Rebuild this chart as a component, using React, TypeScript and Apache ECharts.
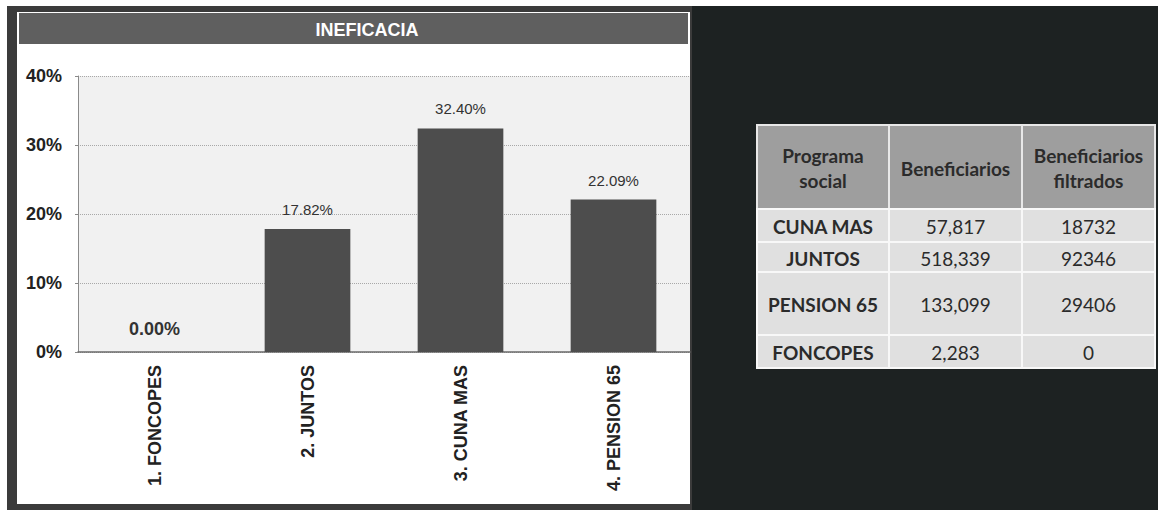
import React, { useEffect, useRef } from "react";
import * as echarts from "echarts";

// ---- chart data ----
const categories = ["1. FONCOPES", "2. JUNTOS", "3. CUNA MAS", "4. PENSION 65"];
const ineficacia = [0.0, 17.82, 32.4, 22.09];
const yMin = 0;
const yMax = 40;
const yInterval = 10;
const chartTitle = "INEFICACIA";

// ---- table data ----
const tableHeaders = ["Programa\nsocial", "Beneficiarios", "Beneficiarios\nfiltrados"];
const tablePrograms = ["CUNA MAS", "JUNTOS", "PENSION 65", "FONCOPES"];
const tableBeneficiarios = ["57,817", "518,339", "133,099", "2,283"];
const tableFiltrados = ["18732", "92346", "29406", "0"];

// ---- layout (not data) ----
const tableColX = [757, 889, 1022, 1155];
const tableRowY = [125, 209, 242, 272, 335, 368];

const SANS = '"Liberation Sans", Arial, sans-serif';
const TBL = 'Lato, "Open Sans", sans-serif';

export default function App() {
  const ref = useRef<HTMLDivElement>(null);

  useEffect(() => {
    if (!ref.current) return;
    const chart = echarts.init(ref.current, undefined, { renderer: "svg" });

    const graphics: any[] = [];
    // frames & panels
    graphics.push({ type: "rect", z: -20, shape: { x: 7, y: 6, width: 690, height: 504 }, style: { fill: "#3b3b3b" } });
    graphics.push({ type: "rect", z: -20, shape: { x: 692, y: 6, width: 466, height: 504 }, style: { fill: "#1d2222" } });
    graphics.push({ type: "rect", z: -19, shape: { x: 17, y: 12, width: 673, height: 492 }, style: { fill: "#ffffff" } });
    graphics.push({ type: "rect", z: -18, shape: { x: 19, y: 13, width: 669, height: 31 }, style: { fill: "#5f5f5f" } });
    graphics.push({
      type: "text", z: 5, x: 367, y: 30,
      style: { text: chartTitle, fill: "#ffffff", font: `bold 18px ${SANS}`, align: "center", verticalAlign: "middle" },
    });

    // table
    const cols = [tablePrograms, tableBeneficiarios, tableFiltrados];
    for (let c = 0; c < 3; c++) {
      const x0 = tableColX[c];
      const w = tableColX[c + 1] - x0;
      // header
      graphics.push({
        type: "rect", z: 5,
        shape: { x: x0, y: tableRowY[0], width: w, height: tableRowY[1] - tableRowY[0] },
        style: { fill: "#9e9e9e", stroke: "#e8e8e8", lineWidth: 2 },
      });
      graphics.push({
        type: "text", z: 6, x: x0 + w / 2, y: (tableRowY[0] + tableRowY[1]) / 2 + 1,
        style: { text: tableHeaders[c], fill: "#2b2b2b", font: `bold 19px ${TBL}`, align: "center", verticalAlign: "middle", lineHeight: 25 },
      });
      for (let r = 0; r < tablePrograms.length; r++) {
        const y0 = tableRowY[r + 1];
        const h = tableRowY[r + 2] - y0;
        graphics.push({
          type: "rect", z: 5,
          shape: { x: x0, y: y0, width: w, height: h },
          style: { fill: "#e0e0e0", stroke: "#f8f8f8", lineWidth: 2 },
        });
        graphics.push({
          type: "text", z: 6, x: x0 + w / 2, y: y0 + h / 2 + 1,
          style: {
            text: cols[c][r], fill: "#2b2b2b",
            font: `${c === 0 ? "bold " : ""}19px ${TBL}`,
            align: "center", verticalAlign: "middle",
          },
        });
      }
    }

    const option: any = {
      animation: false,
      backgroundColor: "#ffffff",
      graphic: { elements: graphics },
      grid: {
        left: 78, right: 1158 - 690, top: 76, bottom: 510 - 352,
        show: true, backgroundColor: "#f1f1f1", borderWidth: 0,
      },
      xAxis: {
        type: "category",
        data: categories,
        axisLine: { show: true, lineStyle: { color: "#6a6a6a", width: 1.5 } },
        axisTick: { show: false },
        axisLabel: {
          rotate: 90, margin: 13, interval: 0,
          color: "#222", fontFamily: SANS, fontWeight: "bold", fontSize: 18,
        },
      },
      yAxis: {
        type: "value",
        min: yMin, max: yMax, interval: yInterval,
        axisLine: { show: true, lineStyle: { color: "#8a8a8a", width: 1 } },
        axisTick: { show: true, length: 3, lineStyle: { color: "#8a8a8a" } },
        splitLine: { show: true, lineStyle: { color: "#a8a8a8", type: "dotted", width: 1 } },
        axisLabel: {
          formatter: "{value}%", margin: 16, padding: [10, 0, 0, 0],
          color: "#222", fontFamily: SANS, fontWeight: "bold", fontSize: 18,
        },
      },
      series: [
        {
          type: "bar",
          data: ineficacia.map((v) =>
            v === 0
              ? { value: v, label: { fontWeight: "bold", fontSize: 18, distance: 14 } }
              : { value: v }
          ),
          barWidth: "56%",
          itemStyle: { color: "#4d4d4d" },
          label: {
            show: true, position: "top", distance: 12,
            formatter: (p: any) => Number(p.value).toFixed(2) + "%",
            color: "#333", fontFamily: SANS, fontSize: 15,
          },
        },
      ],
    };
    chart.setOption(option);
    return () => chart.dispose();
  }, []);

  return (
    <div
      ref={ref}
      style={{ position: "absolute", left: 0, top: 0, width: 1158, height: 510 }}
    />
  );
}
